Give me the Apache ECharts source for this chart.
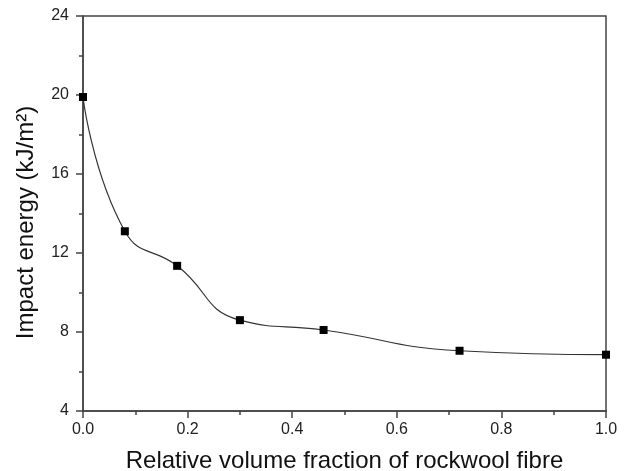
<!DOCTYPE html>
<html lang="en">
<head>
  <meta charset="UTF-8">
  <title>impact energy</title>
  <script src="https://cdn.jsdelivr.net/npm/echarts@6/dist/echarts.min.js"></script>
  <style>
    html, body { margin: 0; padding: 0; background: #fff; }
    #chart { width: 629px; height: 471px; }
  </style>
</head>
<body>
<div id="chart"></div>
<script type="text/javascript">
  // rockwool fibre fraction vs impact energy
  var fraction = [0, 0.08, 0.18, 0.30, 0.46, 0.72, 1.0];
  var energy = [19.9, 13.1, 11.35, 8.6, 8.1, 7.05, 6.85];

  var points = [];
  for (let i = 0; i < fraction.length; i++) {
    points.push([fraction[i], energy[i]]);
  }

  var myChart = echarts.init(document.getElementById('chart'));
  var font = 'Liberation Sans, Arial, sans-serif';
  var axisColor = '#444';

  var option = {
    animation: false,
    grid: {
      left: 83, right: 23, top: 16, bottom: 60,
      outerBoundsMode: 'none',
      containLabel: false,
      show: true,
      borderColor: axisColor,
      borderWidth: 1.5
    },
    xAxis: {
      type: 'value',
      min: 0, max: 1, interval: 0.2,
      name: 'Relative volume fraction of rockwool fibre',
      nameLocation: 'middle',
      nameGap: 38,
      nameTextStyle: { fontFamily: font, fontSize: 24, color: '#111' },
      axisLine: { show: true, lineStyle: { color: axisColor, width: 1.5 } },
      axisTick: { show: true, length: 7, lineStyle: { color: axisColor, width: 1.5 } },
      minorTick: { show: true, splitNumber: 2, length: 4, lineStyle: { color: axisColor, width: 1.5 } },
      splitLine: { show: false },
      axisLabel: {
        fontFamily: font, fontSize: 16, color: '#222', margin: 11,
        formatter: function (v) { return v.toFixed(1); }
      }
    },
    yAxis: {
      type: 'value',
      min: 4, max: 24, interval: 4,
      name: 'Impact energy (kJ/m²)',
      nameLocation: 'middle',
      nameGap: 45,
      nameTextStyle: { fontFamily: font, fontSize: 24, color: '#111', padding: [0, 18, 0, 0] },
      axisLine: { show: true, lineStyle: { color: axisColor, width: 1.5 } },
      axisTick: { show: true, length: 7, lineStyle: { color: axisColor, width: 1.5 } },
      minorTick: { show: true, splitNumber: 2, length: 4, lineStyle: { color: axisColor, width: 1.5 } },
      splitLine: { show: false },
      axisLabel: { fontFamily: font, fontSize: 16, color: '#222', margin: 14 }
    },
    series: [
      {
        type: 'line',
        data: points,
        smooth: 0.5,
        symbol: 'rect',
        symbolSize: 8,
        itemStyle: { color: '#000' },
        lineStyle: { color: '#333', width: 1.2 }
      }
    ]
  };
  myChart.setOption(option);
</script>
</body>
</html>
